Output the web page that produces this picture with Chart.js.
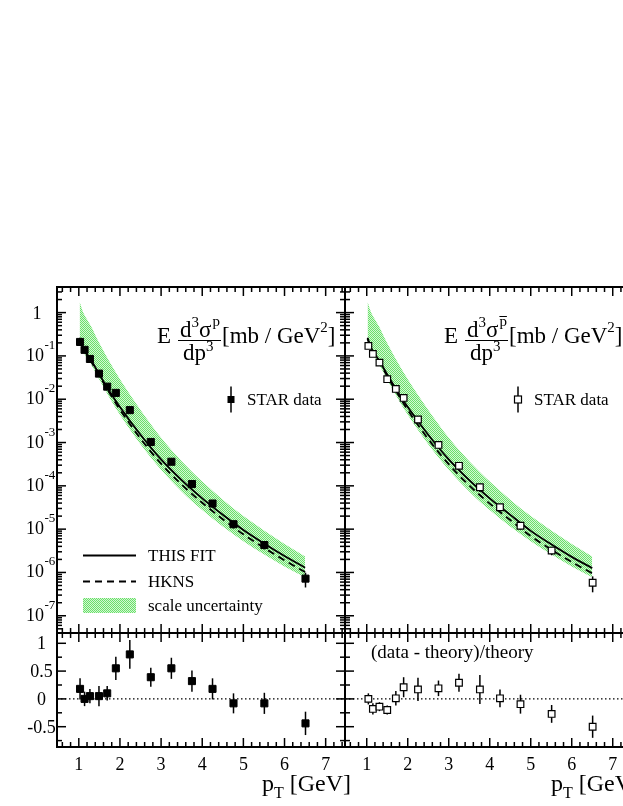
<!DOCTYPE html>
<html><head><meta charset="utf-8">
<script src="https://cdn.jsdelivr.net/npm/chart.js@4/dist/chart.umd.min.js"></script>
<style>
html,body{margin:0;padding:0;background:#fff;overflow:hidden;}
#wrap{position:relative;width:623px;height:806px;overflow:hidden;background:#fff;}
#wrap canvas{position:absolute;left:0;top:0;}
</style></head><body>
<div id="wrap">
<canvas id="c4" width="640" height="806"></canvas>
<canvas id="c3" width="640" height="806"></canvas>
<canvas id="c2" width="640" height="806"></canvas>
<canvas id="c1" width="640" height="806"></canvas>
</div>
<script>
// ---------- data ----------
// proton panel (filled squares)
const pTp      = [1.03, 1.14, 1.27, 1.49, 1.69, 1.9, 2.24, 2.75, 3.25, 3.75, 4.25, 4.76, 5.51, 6.51];
const xsecP    = [0.21, 0.138, 0.085, 0.039, 0.0195, 0.014, 0.0056, 0.00103, 3.6e-4, 1.1e-4, 3.9e-5, 1.3e-5, 4.3e-6, 7.2e-7];
const relErrP  = [0.16, 0.13, 0.12, 0.17, 0.12, 0.14, 0.14, 0.12, 0.12, 0.14, 0.16, 0.2, 0.21, 0.375];
const resP     = [0.18, 0.0, 0.05, 0.05, 0.1, 0.55, 0.8, 0.39, 0.55, 0.32, 0.18, -0.08, -0.08, -0.44];
const resErrP  = [0.19, 0.13, 0.13, 0.18, 0.13, 0.21, 0.26, 0.17, 0.19, 0.19, 0.19, 0.18, 0.19, 0.21];
// antiproton panel (open squares)
const pTpbar     = [1.04, 1.15, 1.31, 1.5, 1.71, 1.9, 2.25, 2.75, 3.25, 3.76, 4.25, 4.75, 5.51, 6.51];
const xsecPbar   = [0.17, 0.111, 0.07, 0.029, 0.0173, 0.0107, 0.0034, 8.8e-4, 2.9e-4, 9.3e-5, 3.2e-5, 1.2e-5, 3.2e-6, 5.8e-7];
const relErrPbar = [0.1, 0.12, 0.09, 0.1, 0.13, 0.15, 0.18, 0.12, 0.12, 0.22, 0.16, 0.19, 0.22, 0.4];
const resPbar    = [0.0, -0.18, -0.14, -0.2, 0.01, 0.21, 0.17, 0.19, 0.29, 0.17, 0.01, -0.095, -0.27, -0.5];
const resErrPbar = [0.1, 0.1, 0.08, 0.08, 0.13, 0.18, 0.21, 0.14, 0.16, 0.26, 0.16, 0.17, 0.16, 0.2];
// theory curves
const pTcurve    = [1.02, 1.1, 1.2, 1.3, 1.5, 1.75, 2.0, 2.5, 3.0, 3.5, 4.0, 4.5, 5.0, 5.5, 6.0, 6.5];
const fitP       = [0.263, 0.158, 0.110, 0.0794, 0.0372, 0.0151, 0.00661, 0.00151, 4.07e-4, 1.35e-4, 5.13e-5, 2.14e-5, 9.55e-6, 4.68e-6, 2.40e-6, 1.29e-6];
const hknsP      = [0.251, 0.151, 0.105, 0.0741, 0.0347, 0.0138, 0.00575, 0.00123, 3.24e-4, 1.07e-4, 4.07e-5, 1.70e-5, 7.59e-6, 3.72e-6, 1.91e-6, 1.02e-6];
const bandHiP    = [1.78, 1.05, 0.692, 0.479, 0.195, 0.0724, 0.0288, 0.00562, 0.00129, 3.72e-4, 1.26e-4, 4.79e-5, 2.0e-5, 9.33e-6, 4.57e-6, 2.34e-6];
const bandLoP    = [0.219, 0.132, 0.0891, 0.0631, 0.0282, 0.0107, 0.00437, 9.12e-4, 2.34e-4, 7.41e-5, 2.75e-5, 1.15e-5, 5.25e-6, 2.63e-6, 1.38e-6, 7.76e-7];
const fitPbar    = [0.263, 0.158, 0.110, 0.0794, 0.0372, 0.0151, 0.00661, 0.00151, 4.07e-4, 1.35e-4, 5.13e-5, 2.14e-5, 9.12e-6, 4.47e-6, 2.29e-6, 1.26e-6];
const hknsPbar   = [0.251, 0.151, 0.102, 0.0741, 0.0339, 0.0135, 0.00562, 0.00120, 3.16e-4, 1.02e-4, 3.89e-5, 1.62e-5, 6.92e-6, 3.39e-6, 1.74e-6, 9.55e-7];
const bandHiPbar = [1.78, 1.05, 0.692, 0.479, 0.195, 0.0724, 0.0288, 0.00562, 0.00129, 3.72e-4, 1.26e-4, 4.79e-5, 2.0e-5, 9.33e-6, 4.57e-6, 2.34e-6];
const bandLoPbar = [0.219, 0.132, 0.0891, 0.0631, 0.0282, 0.0107, 0.00437, 9.12e-4, 2.34e-4, 7.41e-5, 2.75e-5, 1.15e-5, 5.25e-6, 2.63e-6, 1.38e-6, 7.76e-7];
// tick labels
const xTickLabels = ['1', '2', '3', '4', '5', '6', '7'];
const xTickValues = [1, 2, 3, 4, 5, 6, 7];
const logTickExps = [0, -1, -2, -3, -4, -5, -6, -7];
const resTickValues = [1, 0.5, 0, -0.5];
const resTickLabels = ['1', '0.5', '0', '-0.5'];
const zeroLineX = [0.47, 7.47];

// ---------- helpers ----------
const FONT = '"Liberation Serif","Times New Roman",serif';
const W = 640, H = 806;
const XMIN = 0.47, XMAX = 7.47;
const patCanvas = document.createElement('canvas');
patCanvas.width = 2; patCanvas.height = 2;
(function(){ const g = patCanvas.getContext('2d');
  g.fillStyle = '#d2f9d2'; g.fillRect(0,0,2,2);
  g.fillStyle = '#6bde6b'; g.fillRect(0,0,1,1); g.fillRect(1,1,1,1); })();
const bandFill = (c) => c.chart.ctx.createPattern(patCanvas, 'repeat');
const pts = (xs, ys) => xs.map((x, i) => ({x: x, y: ys[i]}));

function seg(ctx, x1, y1, x2, y2){ ctx.beginPath(); ctx.moveTo(x1, y1); ctx.lineTo(x2, y2); ctx.stroke(); }

function framePlugin(isLog){
  return { id: 'frame', afterDatasetsDraw(chart){
    const ctx = chart.ctx, a = chart.chartArea, xs = chart.scales.x, ys = chart.scales.y;
    ctx.save(); ctx.strokeStyle = '#000'; ctx.lineWidth = 1.5;
    for (let k = Math.ceil(xs.min * 5); k <= Math.floor(xs.max * 5); k++){
      const px = xs.getPixelForValue(k / 5); const len = (k % 5 === 0) ? 9 : 5;
      seg(ctx, px, a.top, px, a.top + len); seg(ctx, px, a.bottom, px, a.bottom - len);
    }
    if (isLog){
      for (let e = -8; e <= 0; e++) for (let m = 1; m <= 9; m++){
        const v = m * Math.pow(10, e); if (v < ys.min || v > ys.max) continue;
        const py = ys.getPixelForValue(v); const len = m === 1 ? 9 : 5;
        seg(ctx, a.left, py, a.left + len, py); seg(ctx, a.right, py, a.right - len, py);
      }
    } else {
      for (let k = -4; k <= 4; k++){
        const v = k * 0.25; if (v < ys.min || v > ys.max) continue;
        const py = ys.getPixelForValue(v); const len = (k % 2 === 0) ? 9 : 5;
        seg(ctx, a.left, py, a.left + len, py); seg(ctx, a.right, py, a.right - len, py);
      }
    }
    ctx.lineWidth = 2; ctx.strokeRect(a.left, a.top, a.right - a.left, a.bottom - a.top);
    ctx.restore();
  }};
}
function errPlugin(xv, lo, hi){
  return { id: 'errbars', beforeDatasetDraw(chart, args){
    if (args.index !== 0) return;
    const ctx = chart.ctx, xs = chart.scales.x, ys = chart.scales.y;
    ctx.save(); ctx.strokeStyle = '#000'; ctx.lineWidth = 1.5;
    for (let i = 0; i < xv.length; i++){
      const px = xs.getPixelForValue(xv[i]);
      seg(ctx, px, ys.getPixelForValue(lo[i]), px, ys.getPixelForValue(hi[i]));
    }
    ctx.restore();
  }};
}
function drawTitle(ctx, x0, bar){
  ctx.save(); ctx.fillStyle = '#000'; ctx.strokeStyle = '#000'; ctx.textAlign = 'left'; ctx.textBaseline = 'alphabetic';
  const big = '23px ' + FONT, sm = '15px ' + FONT;
  ctx.font = big; ctx.fillText('E', x0, 343);
  let x = x0 + 23;
  ctx.fillText('d', x, 337); x += ctx.measureText('d').width;
  ctx.font = sm; ctx.fillText('3', x, 327); x += ctx.measureText('3').width;
  ctx.font = big; ctx.fillText('σ', x, 337); x += ctx.measureText('σ').width;
  ctx.font = sm; ctx.fillText('p', x + 1, 326);
  const pw = ctx.measureText('p').width;
  ctx.lineWidth = 1;
  if (bar) seg(ctx, x + 1, 316.5, x + 1 + pw, 316.5);
  ctx.lineWidth = 1.2; seg(ctx, x0 + 21, 340.5, x0 + 64, 340.5);
  ctx.font = big; let xd = x0 + 26; ctx.fillText('dp', xd, 360); xd += ctx.measureText('dp').width;
  ctx.font = sm; ctx.fillText('3', xd, 351);
  ctx.font = big; let xt = x0 + 65; ctx.fillText('[mb / GeV', xt, 343); xt += ctx.measureText('[mb / GeV').width;
  ctx.font = sm; ctx.fillText('2', xt, 332); xt += ctx.measureText('2').width;
  ctx.font = big; ctx.fillText(']', xt, 343);
  ctx.restore();
}
function drawXTitle(ctx, x0){
  ctx.save(); ctx.fillStyle = '#000'; ctx.textAlign = 'left'; ctx.textBaseline = 'alphabetic';
  ctx.font = '24px ' + FONT; ctx.fillText('p', x0, 791); let x = x0 + ctx.measureText('p').width;
  ctx.font = '16px ' + FONT; ctx.fillText('T', x, 798); x += ctx.measureText('T').width;
  ctx.font = '24px ' + FONT; ctx.fillText(' [GeV]', x, 791);
  ctx.restore();
}
function drawXLabels(ctx, xs){
  ctx.save(); ctx.fillStyle = '#000'; ctx.font = '18px ' + FONT; ctx.textAlign = 'center'; ctx.textBaseline = 'alphabetic';
  for (let i = 0; i < xTickValues.length; i++) ctx.fillText(xTickLabels[i], xs.getPixelForValue(xTickValues[i]), 770);
  ctx.restore();
}
function legendMarker(ctx, x, y, open){
  ctx.save(); ctx.strokeStyle = '#000'; ctx.fillStyle = '#000'; ctx.lineWidth = 1.5;
  seg(ctx, x, y - 13, x, y + 13);
  if (open){ ctx.fillStyle = '#fff'; ctx.fillRect(x - 3.5, y - 3.5, 7, 7); ctx.lineWidth = 1.2; ctx.strokeRect(x - 3.5, y - 3.5, 7, 7); }
  else ctx.fillRect(x - 3.5, y - 3.5, 7, 7);
  ctx.restore();
}

function baseOptions(pad, ytype, ymin, ymax){
  return {
    responsive: false, animation: false, devicePixelRatio: 1,
    layout: { padding: pad },
    plugins: { legend: { display: false }, tooltip: { enabled: false } },
    events: [],
    scales: {
      x: { type: 'linear', min: XMIN, max: XMAX, display: false },
      y: { type: ytype, min: ymin, max: ymax, display: false }
    }
  };
}
function topChart(canvasId, pT, val, rel, fit, hkns, hi, lo, open, left){
  const pad = left ? {left: 57, right: W - 345, top: 287, bottom: H - 633}
                   : {left: 345, right: W - 632, top: 287, bottom: H - 633};
  const lowE = val.map((v, i) => v * (1 - rel[i]));
  const highE = val.map((v, i) => v * (1 + rel[i]));
  const decor = { id: 'decor', afterDraw(chart){
    const ctx = chart.ctx, ys = chart.scales.y;
    if (left){
      ctx.save(); ctx.fillStyle = '#000'; ctx.textBaseline = 'alphabetic';
      for (const e of logTickExps){
        const py = ys.getPixelForValue(Math.pow(10, e));
        if (e === 0){ ctx.font = '18px ' + FONT; ctx.textAlign = 'center'; ctx.fillText('1', 37, py + 6); }
        else {
          ctx.font = '18px ' + FONT; ctx.textAlign = 'right'; ctx.fillText('10', 44, py + 5);
          ctx.font = '13px ' + FONT; ctx.textAlign = 'left'; ctx.fillText(String(e), 44.5, py - 7);
        }
      }
      ctx.restore();
      // line legend
      ctx.save(); ctx.strokeStyle = '#000'; ctx.lineWidth = 2;
      seg(ctx, 83, 555.5, 136, 555.5);
      ctx.setLineDash([7, 5]); seg(ctx, 83, 581.5, 136, 581.5); ctx.setLineDash([]);
      ctx.fillStyle = ctx.createPattern(patCanvas, 'repeat'); ctx.fillRect(83, 598, 53, 15);
      ctx.fillStyle = '#000'; ctx.font = '17px ' + FONT; ctx.textAlign = 'left';
      ctx.fillText('THIS FIT', 148, 561); ctx.fillText('HKNS', 148, 587); ctx.fillText('scale uncertainty', 148, 611);
      ctx.restore();
    }
    const off = left ? 0 : 287;
    drawTitle(ctx, 157 + off, !left);
    legendMarker(ctx, 231 + off, 399.5, open);
    ctx.save(); ctx.fillStyle = '#000'; ctx.font = '17px ' + FONT; ctx.textAlign = 'left';
    ctx.fillText('STAR data', 247 + off, 405); ctx.restore();
  }};
  return new Chart(document.getElementById(canvasId), {
    type: 'line',
    data: { datasets: [
      { data: pts(pT, val), showLine: false, pointStyle: 'rect', pointRadius: open ? 4.7 : 5,
        pointBackgroundColor: open ? '#fff' : '#000', pointBorderColor: '#000', pointBorderWidth: open ? 1.2 : 1, clip: false },
      { data: pts(pTcurve, fit), borderColor: '#000', borderWidth: 1.8, pointRadius: 0, fill: false, cubicInterpolationMode: 'monotone' },
      { data: pts(pTcurve, hkns), borderColor: '#000', borderWidth: 1.8, borderDash: [7, 5], pointRadius: 0, fill: false, cubicInterpolationMode: 'monotone' },
      { data: pts(pTcurve, hi), borderWidth: 0, borderColor: 'rgba(0,0,0,0)', backgroundColor: bandFill, pointRadius: 0, fill: '+1', cubicInterpolationMode: 'monotone' },
      { data: pts(pTcurve, lo), borderWidth: 0, borderColor: 'rgba(0,0,0,0)', pointRadius: 0, fill: false, cubicInterpolationMode: 'monotone' }
    ]},
    options: baseOptions(pad, 'logarithmic', 4e-8, 3.9),
    plugins: [errPlugin(pT, lowE, highE), framePlugin(true), decor]
  });
}
function botChart(canvasId, pT, res, err, open, left){
  const pad = left ? {left: 57, right: W - 345, top: 633, bottom: H - 747}
                   : {left: 345, right: W - 632, top: 633, bottom: H - 747};
  const lowE = res.map((v, i) => v - err[i]);
  const highE = res.map((v, i) => v + err[i]);
  const decor = { id: 'decor', afterDraw(chart){
    const ctx = chart.ctx, ys = chart.scales.y, xs = chart.scales.x;
    if (left){
      ctx.save(); ctx.fillStyle = '#000'; ctx.font = '18px ' + FONT; ctx.textAlign = 'center'; ctx.textBaseline = 'alphabetic';
      for (let i = 0; i < resTickValues.length; i++) ctx.fillText(resTickLabels[i], 41.5, ys.getPixelForValue(resTickValues[i]) + 6);
      ctx.restore();
    } else {
      ctx.save(); ctx.fillStyle = '#000'; ctx.font = '19px ' + FONT; ctx.textAlign = 'left';
      ctx.fillText('(data - theory)/theory', 371, 658); ctx.restore();
    }
    drawXLabels(ctx, xs);
    drawXTitle(ctx, left ? 262 : 551);
  }};
  return new Chart(document.getElementById(canvasId), {
    type: 'line',
    data: { datasets: [
      { data: pts(pT, res), showLine: false, pointStyle: 'rect', pointRadius: open ? 4.7 : 5,
        pointBackgroundColor: open ? '#fff' : '#000', pointBorderColor: '#000', pointBorderWidth: open ? 1.2 : 1 },
      { data: pts(zeroLineX, [0, 0]), borderColor: '#000', borderWidth: 1.2, borderDash: [1.5, 2.5], pointRadius: 0, fill: false }
    ]},
    options: baseOptions(pad, 'linear', -0.865, 1.185),
    plugins: [errPlugin(pT, lowE, highE), framePlugin(false), decor]
  });
}
topChart('c1', pTp, xsecP, relErrP, fitP, hknsP, bandHiP, bandLoP, false, true);
topChart('c2', pTpbar, xsecPbar, relErrPbar, fitPbar, hknsPbar, bandHiPbar, bandLoPbar, true, false);
botChart('c3', pTp, resP, resErrP, false, true);
botChart('c4', pTpbar, resPbar, resErrPbar, true, false);
</script>
</body></html>
